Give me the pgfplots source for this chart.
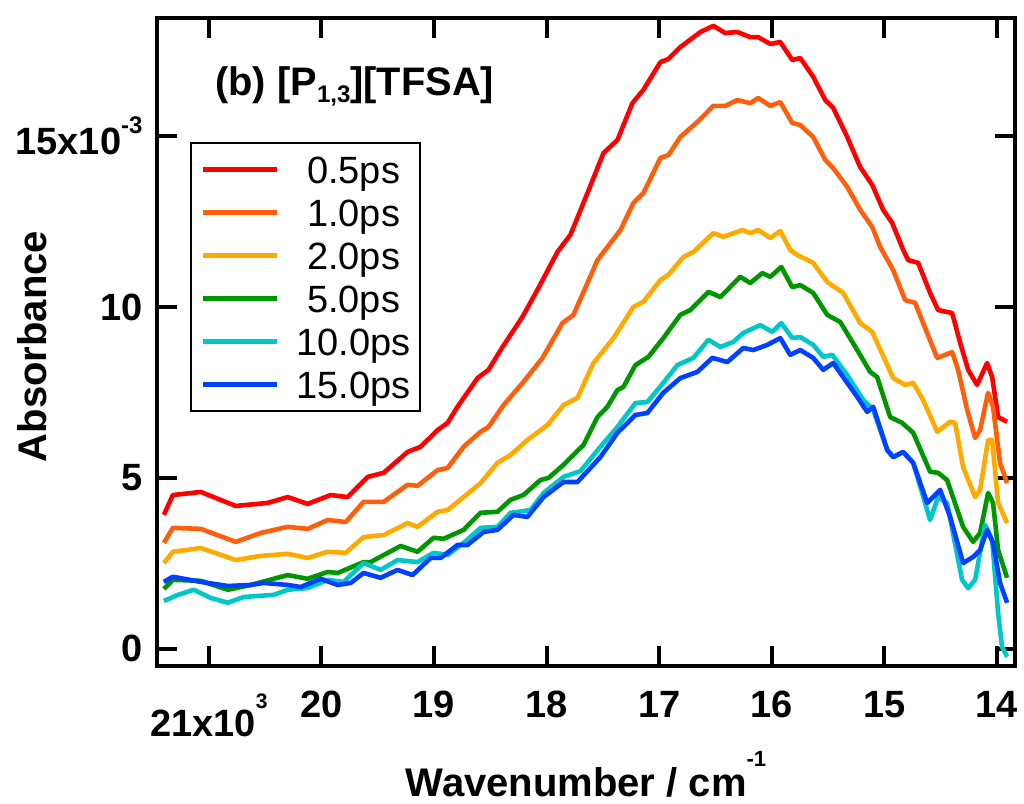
\documentclass[border=0pt]{standalone}
\usepackage{fontspec}
\setmainfont{Liberation Sans}
\usepackage{pgfplots}
\pgfplotsset{compat=1.18}
\usetikzlibrary{calc}
\definecolor{cRed}{RGB}{255,0,0}
\definecolor{cOrange}{RGB}{255,95,10}
\definecolor{cYellow}{RGB}{255,170,0}
\definecolor{cGreen}{RGB}{0,150,0}
\definecolor{cCyan}{RGB}{0,200,200}
\definecolor{cBlue}{RGB}{0,64,255}
\newcommand{\bigf}{\fontsize{19}{19}\selectfont}
\newcommand{\sups}[3][10.5]{\raisebox{#2}{\fontsize{#1}{#1}\selectfont #3}}
\newcommand{\lgd}[1]{\makebox[54pt][c]{\rule[-2.4pt]{0pt}{17.4pt}#1}}
\begin{document}
\begin{tikzpicture}
\begin{axis}[name=ax, scale only axis, width=429pt, height=324pt,
  x dir=reverse, xmin=13.84, xmax=21.46, ymin=-0.5, ymax=18.45,
  xtick={14,15,16,17,18,19,20}, xticklabels={14,15,16,17,18,19,20},
  extra x ticks={21}, extra x tick labels={21x10\sups{14pt}{3}},
  extra x tick style={xticklabel style={yshift=-1pt}},
  ytick={0,5,10,15}, yticklabels={0,5,10,{15x10\sups[12]{10.5pt}{-3}}},
  tick label style={font=\bigf\bfseries},
  xticklabel style={anchor=north, inner sep=0pt, yshift=-12.5pt},
  yticklabel style={anchor=east, inner sep=0pt, xshift=-7pt},
  major tick length=10pt, tick align=inside,
  every tick/.style={black, line width=2pt},
  axis line style={line width=2pt, line cap=rect},
  minor tick num=0,
  xlabel={Wavenumber / cm\sups[11]{15pt}{-1}}, ylabel={Absorbance},
  every axis x label/.style={at={(axis description cs:0.5,-0.202)}, anchor=base, font=\fontsize{20}{20}\selectfont\bfseries},
  every axis y label/.style={at={(axis description cs:-0.1457,0.493)}, rotate=90, anchor=center, font=\fontsize{20}{20}\selectfont\bfseries},
  legend cell align=center,
  legend style={at={(0.0385,0.8086)}, anchor=north west, draw=black, line width=1pt,
     inner xsep=5pt, inner ysep=4pt, font=\bigf, row sep=3pt, column sep=9pt,
     nodes={inner sep=1pt}},
  legend image code/.code={\draw[#1, line width=2.3pt] (0pt,0pt) -- (37pt,0pt);},
  every axis plot/.append style={line width=2.3pt, line join=round, mark=none},
  clip=true,
]
% 0.5 ps
\addplot[cRed] coordinates {
(21.399,3.92)(21.319,4.50)(21.071,4.59)(20.760,4.18)(20.476,4.27)(20.299,4.44)(20.122,4.24)(19.917,4.50)(19.767,4.44)(19.589,5.03)(19.447,5.15)(19.234,5.76)(19.119,5.91)(18.968,6.40)(18.879,6.61)(18.791,7.08)(18.613,7.92)(18.516,8.16)(18.391,8.83)(18.214,9.71)(18.081,10.50)(17.903,11.61)(17.788,12.11)(17.637,13.33)(17.495,14.50)(17.371,14.88)(17.238,15.96)(17.140,16.35)(16.989,17.16)(16.918,17.25)(16.812,17.60)(16.634,18.04)(16.519,18.22)(16.413,18.01)(16.306,18.04)(16.191,17.89)(16.120,17.89)(16.013,17.69)(15.925,17.75)(15.818,17.22)(15.747,17.28)(15.632,16.73)(15.525,16.05)(15.454,15.82)(15.330,14.97)(15.215,14.09)(15.108,13.57)(15.011,12.84)(14.931,12.46)(14.833,11.67)(14.789,11.37)(14.700,11.29)(14.594,10.41)(14.523,9.91)(14.398,9.82)(14.327,8.95)(14.256,8.16)(14.177,7.72)(14.088,8.36)(14.043,7.95)(13.990,6.78)(13.910,6.64)
};
\addlegendentry{\lgd{0.5ps}}
% 1.0 ps
\addplot[cOrange] coordinates {
(21.399,3.10)(21.319,3.54)(21.071,3.51)(20.760,3.13)(20.539,3.39)(20.299,3.57)(20.122,3.51)(19.944,3.77)(19.784,3.71)(19.625,4.30)(19.447,4.30)(19.234,4.80)(19.146,4.77)(18.968,5.23)(18.879,5.29)(18.737,5.91)(18.586,6.35)(18.516,6.49)(18.382,7.13)(18.205,7.81)(18.036,8.51)(17.859,9.53)(17.761,9.77)(17.548,11.37)(17.344,12.25)(17.229,13.04)(17.140,13.33)(16.989,14.36)(16.918,14.44)(16.812,14.97)(16.661,15.41)(16.519,15.88)(16.413,15.88)(16.306,16.05)(16.191,15.96)(16.120,16.11)(16.013,15.88)(15.925,15.99)(15.818,15.38)(15.747,15.32)(15.632,14.97)(15.525,14.30)(15.454,14.06)(15.330,13.51)(15.215,12.84)(15.108,12.34)(15.037,11.75)(14.922,11.08)(14.815,10.20)(14.727,10.12)(14.656,9.53)(14.531,8.51)(14.398,8.68)(14.345,8.16)(14.265,6.99)(14.194,6.17)(14.150,6.40)(14.079,7.49)(14.035,7.08)(13.973,5.44)(13.910,4.85)
};
\addlegendentry{\lgd{1.0ps}}
% 2.0 ps
\addplot[cYellow] coordinates {
(21.399,2.51)(21.319,2.84)(21.071,2.95)(20.760,2.60)(20.539,2.72)(20.299,2.78)(20.122,2.66)(19.944,2.84)(19.784,2.81)(19.625,3.27)(19.447,3.33)(19.234,3.68)(19.146,3.57)(18.968,4.01)(18.879,4.06)(18.737,4.44)(18.586,4.85)(18.436,5.44)(18.320,5.67)(18.170,6.11)(17.992,6.55)(17.850,7.13)(17.726,7.34)(17.584,8.36)(17.406,9.09)(17.229,10.00)(17.140,10.15)(16.989,10.79)(16.918,10.94)(16.785,11.46)(16.696,11.61)(16.519,12.16)(16.430,12.05)(16.262,12.25)(16.191,12.16)(16.120,12.25)(16.013,12.02)(15.925,12.22)(15.836,11.67)(15.774,11.52)(15.632,11.29)(15.508,10.73)(15.366,10.41)(15.215,9.53)(15.108,9.27)(14.922,7.92)(14.815,7.72)(14.744,7.78)(14.656,7.28)(14.531,6.35)(14.416,6.64)(14.372,6.61)(14.301,5.32)(14.194,4.44)(14.150,4.65)(14.079,6.11)(14.043,6.11)(13.990,4.27)(13.910,3.68)
};
\addlegendentry{\lgd{2.0ps}}
% 5.0 ps
\addplot[cGreen] coordinates {
(21.399,1.75)(21.319,2.02)(21.071,1.99)(20.831,1.73)(20.627,1.87)(20.299,2.16)(20.122,2.05)(19.944,2.25)(19.855,2.22)(19.625,2.54)(19.563,2.54)(19.296,3.01)(19.146,2.84)(19.004,3.25)(18.915,3.22)(18.737,3.48)(18.586,3.98)(18.436,4.01)(18.320,4.36)(18.205,4.50)(18.054,4.94)(17.983,5.00)(17.850,5.38)(17.673,5.96)(17.548,6.78)(17.460,7.08)(17.371,7.57)(17.318,7.66)(17.211,8.30)(17.096,8.54)(16.963,9.09)(16.812,9.77)(16.723,9.91)(16.563,10.44)(16.457,10.29)(16.280,10.88)(16.191,10.70)(16.084,10.99)(16.013,10.88)(15.916,11.17)(15.818,10.58)(15.747,10.64)(15.632,10.41)(15.508,9.77)(15.392,9.56)(15.241,8.74)(15.126,8.10)(15.064,7.95)(14.949,6.78)(14.842,6.61)(14.744,6.32)(14.594,5.18)(14.523,5.15)(14.443,4.94)(14.301,3.57)(14.212,3.13)(14.150,3.39)(14.079,4.56)(14.035,4.27)(13.990,2.89)(13.910,2.08)
};
\addlegendentry{\lgd{5.0ps}}
% 10.0 ps
\addplot[cCyan] coordinates {
(21.399,1.40)(21.275,1.58)(21.133,1.73)(20.982,1.49)(20.831,1.35)(20.689,1.52)(20.423,1.58)(20.299,1.73)(20.122,1.78)(19.944,2.02)(19.802,1.96)(19.625,2.51)(19.474,2.31)(19.323,2.60)(19.146,2.54)(19.004,2.81)(18.879,2.75)(18.737,3.10)(18.586,3.54)(18.436,3.57)(18.320,3.98)(18.143,4.06)(18.027,4.56)(17.850,5.03)(17.699,5.20)(17.522,5.91)(17.371,6.49)(17.211,7.19)(17.105,7.22)(16.963,7.78)(16.839,8.30)(16.696,8.51)(16.563,9.04)(16.457,8.83)(16.341,8.98)(16.253,9.24)(16.102,9.47)(15.996,9.27)(15.916,9.53)(15.818,9.09)(15.747,9.12)(15.632,8.89)(15.543,8.54)(15.463,8.60)(15.330,8.01)(15.188,7.28)(15.099,6.99)(14.975,5.82)(14.922,5.61)(14.833,5.76)(14.744,5.44)(14.594,3.77)(14.523,4.44)(14.443,4.27)(14.310,2.02)(14.256,1.78)(14.194,2.02)(14.106,3.63)(14.043,3.19)(13.990,1.05)(13.955,0.06)(13.910,-0.23)
};
\addlegendentry{\lgd{10.0ps}}
% 15.0 ps
\addplot[cBlue] coordinates {
(21.399,1.96)(21.319,2.11)(21.071,1.96)(20.831,1.84)(20.627,1.87)(20.512,1.93)(20.299,1.87)(20.184,1.81)(20.006,2.05)(19.855,1.87)(19.740,1.93)(19.625,2.22)(19.474,2.08)(19.323,2.31)(19.190,2.16)(19.030,2.66)(18.941,2.66)(18.791,3.04)(18.702,3.04)(18.560,3.42)(18.436,3.48)(18.294,3.92)(18.170,3.86)(18.027,4.44)(17.850,4.88)(17.726,4.88)(17.522,5.61)(17.371,6.32)(17.211,6.84)(17.105,6.90)(16.963,7.49)(16.812,7.92)(16.661,8.10)(16.528,8.51)(16.395,8.39)(16.253,8.80)(16.164,8.74)(16.040,8.89)(15.925,9.09)(15.836,8.60)(15.747,8.74)(15.632,8.51)(15.543,8.16)(15.454,8.36)(15.330,7.78)(15.241,7.37)(15.153,6.93)(15.099,7.08)(14.975,5.82)(14.922,5.61)(14.833,5.76)(14.744,5.44)(14.620,4.27)(14.505,4.65)(14.416,3.86)(14.301,2.51)(14.212,2.69)(14.150,2.89)(14.088,3.48)(14.035,3.10)(13.973,1.93)(13.910,1.35)
};
\addlegendentry{\lgd{15.0ps}}
\node[anchor=base west, inner sep=0pt, font=\fontsize{19.9}{19.9}\selectfont\bfseries] at (rel axis cs:0.0676,0.881) {(b) [P\raisebox{-3.5pt}{\fontsize{12}{12}\selectfont 1,3}][TFSA]};
\end{axis}
\pgfresetboundingbox
\path[use as bounding box] ($(ax.south west)+(-78.5pt,-68.5pt)$) rectangle ($(ax.north east)+(4.5pt,9pt)$);
\end{tikzpicture}
\end{document}
